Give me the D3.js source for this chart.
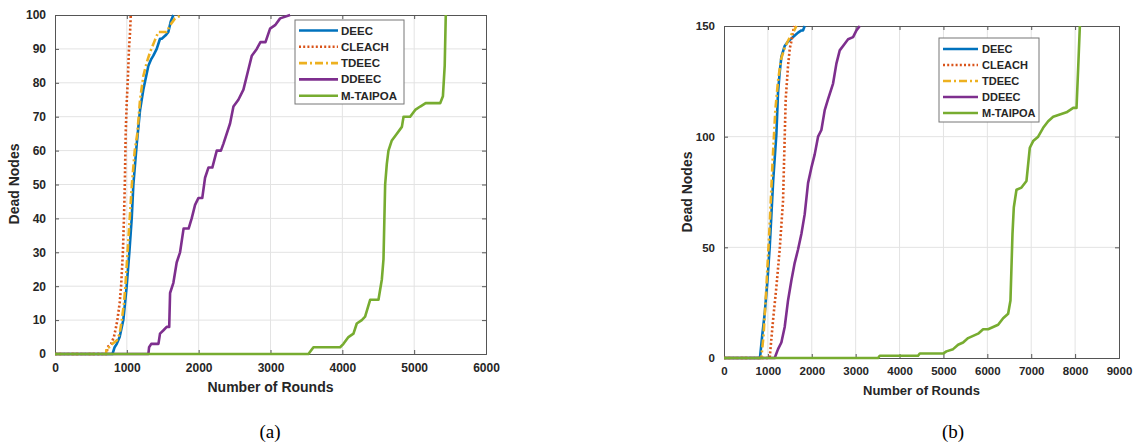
<!DOCTYPE html>
<html>
<head>
<meta charset="utf-8">
<script src="https://cdn.jsdelivr.net/npm/d3@7"></script>
<style>
  body { margin: 0; background: #fff; }
  svg text { font-family: "Liberation Sans", Arial, sans-serif; font-weight: bold; fill: #262626; }
  svg text.cap { font-family: "Liberation Serif", "Times New Roman", serif; font-weight: normal; fill: #000; }
</style>
</head>
<body>
<svg id="fig" width="1133" height="445"></svg>
<script>
// series names, same order in both panels
const seriesNames = ['DEEC', 'CLEACH', 'TDEEC', 'DDEEC', 'M-TAIPOA'];

// (a) 100 nodes: [round, dead nodes]
const deecA = [[0,0],[800,0],[830,2],[860,3],[900,5],[951,10],[975,15],[998,20],[1035,30],[1068,40],[1091,50],[1138,62],[1184,72],[1230,78],[1300,85],[1340,87],[1369,88],[1416,90],[1462,93],[1486,93],[1540,94],[1578,95],[1610,98],[1648,100]];
const cleachA = [[0,0],[720,0],[730,2],[780,3],[820,5],[850,8],[868,10],[900,15],[920,20],[945,30],[960,40],[972,50],[984,65],[1000,75],[1012,80],[1030,90],[1045,95],[1055,100]];
const tdeecA = [[0,0],[710,0],[720,2],[760,2],[800,3],[860,4],[900,6],[930,10],[960,15],[980,20],[1010,30],[1040,40],[1070,50],[1110,60],[1146,65],[1184,75],[1230,82],[1277,86],[1323,89],[1380,92],[1439,95],[1555,95],[1602,97],[1671,99],[1764,100]];
const ddeecA = [[0,0],[1300,0],[1310,2],[1340,3],[1440,3],[1462,6],[1510,7],[1555,8],[1590,8],[1602,18],[1648,21],[1694,27],[1741,30],[1790,37],[1860,37],[1903,40],[1950,44],[1996,46],[2050,46],[2089,52],[2136,55],[2190,55],[2252,60],[2310,60],[2344,62],[2437,68],[2484,73],[2553,75],[2623,78],[2693,84],[2740,88],[2809,90],[2860,92],[2930,92],[2994,96],[3064,97],[3134,99],[3273,100]];
const mtaipoaA = [[0,0],[3528,0],[3598,2],[3969,2],[4016,3],[4085,5],[4155,6],[4201,9],[4271,10],[4317,11],[4387,16],[4503,16],[4550,22],[4573,28],[4596,50],[4619,56],[4642,60],[4689,63],[4759,65],[4829,67],[4852,70],[4944,70],[5014,72],[5084,73],[5160,74],[5362,74],[5400,76],[5425,85],[5440,100]];

// (b) 150 nodes: [round, dead nodes]
const deecB = [[0,0],[820,0],[870,10],[927,20],[990,35],[1041,50],[1120,80],[1193,101],[1231,120],[1269,129],[1307,136],[1383,141],[1459,143],[1573,145],[1687,147],[1763,148],[1800,148],[1839,150]];
const cleachB = [[0,0],[1041,0],[1117,17],[1193,32],[1269,49],[1345,71],[1406,117],[1459,132],[1500,140],[1535,143],[1570,147],[1600,150]];
const tdeecB = [[0,0],[850,0],[900,10],[960,30],[1040,60],[1110,90],[1170,112],[1230,125],[1300,135],[1380,140],[1450,143],[1530,146],[1600,148],[1650,150]];
const ddeecB = [[0,0],[1155,0],[1231,4],[1307,7],[1383,14],[1459,26],[1535,35],[1611,43],[1687,49],[1763,56],[1839,65],[1915,79],[1991,86],[2067,92],[2143,100],[2219,103],[2295,112],[2371,117],[2485,124],[2561,133],[2637,139],[2751,142],[2827,144],[2941,145],[3017,148],[3093,150]];
const mtaipoaB = [[0,0],[3511,0],[3549,1],[4422,1],[4460,2],[4992,2],[5068,3],[5220,4],[5334,6],[5448,7],[5562,9],[5676,10],[5790,11],[5904,13],[6018,13],[6132,14],[6246,15],[6360,18],[6474,20],[6527,26],[6550,41],[6573,56],[6603,68],[6664,76],[6778,77],[6892,80],[6968,95],[7044,98],[7158,100],[7272,104],[7386,107],[7500,109],[7652,110],[7804,111],[7956,113],[8032,113],[8070,131],[8108,150]];

const xTicksA = [0, 1000, 2000, 3000, 4000, 5000, 6000];
const yTicksA = [0, 10, 20, 30, 40, 50, 60, 70, 80, 90, 100];
const xTicksB = [0, 1000, 2000, 3000, 4000, 5000, 6000, 7000, 8000, 9000];
const yTicksB = [0, 50, 100, 150];

const colors = ['#0072BD', '#D95319', '#EDB120', '#7E2F8E', '#77AC30'];
const dashes = [null, '2,2.2', '8,3,2,3', null, null];

const svg = d3.select('#fig');

function drawPanel(o) {
  const x = d3.scaleLinear().domain([0, o.xMax]).range([o.left, o.right]);
  const y = d3.scaleLinear().domain([0, o.yMax]).range([o.bottom, o.top]);
  const g = svg.append('g');

  // grid
  g.append('g').selectAll('line').data(o.xTicks.slice(1, -1)).join('line')
    .attr('x1', d => x(d)).attr('x2', d => x(d))
    .attr('y1', o.top).attr('y2', o.bottom)
    .attr('stroke', '#e3e3e3').attr('stroke-width', 1);
  g.append('g').selectAll('line').data(o.yTicks.slice(1, -1)).join('line')
    .attr('y1', d => y(d)).attr('y2', d => y(d))
    .attr('x1', o.left).attr('x2', o.right)
    .attr('stroke', '#e3e3e3').attr('stroke-width', 1);

  // axes, matlab style ticks pointing in
  const xAx = g.append('g').attr('transform', 'translate(0,' + o.bottom + ')')
    .call(d3.axisBottom(x).tickValues(o.xTicks).tickSize(-4).tickPadding(9).tickFormat(d3.format('d')));
  const xAxTop = g.append('g').attr('transform', 'translate(0,' + o.top + ')')
    .call(d3.axisTop(x).tickValues(o.xTicks).tickSize(-4).tickFormat(''));
  const yAx = g.append('g').attr('transform', 'translate(' + o.left + ',0)')
    .call(d3.axisLeft(y).tickValues(o.yTicks).tickSize(-4).tickPadding(9));
  const yAxR = g.append('g').attr('transform', 'translate(' + o.right + ',0)')
    .call(d3.axisRight(y).tickValues(o.yTicks).tickSize(-4).tickFormat(''));
  [xAx, xAxTop, yAx, yAxR].forEach(a => {
    a.select('.domain').attr('stroke', '#555');
    a.selectAll('.tick line').attr('stroke', '#555');
    a.selectAll('text').style('font-size', o.tickFont + 'px')
      .style('font-family', '"Liberation Sans", Arial, sans-serif').attr('fill', '#262626');
  });

  // axis titles
  g.append('text').attr('x', (o.left + o.right) / 2).attr('y', o.xLabelY)
    .attr('text-anchor', 'middle').style('font-size', o.xLabelFont + 'px').text('Number of Rounds');
  g.append('text').attr('transform', 'translate(' + o.yLabelX + ',' + o.yLabelY + ') rotate(-90)')
    .attr('text-anchor', 'middle').style('font-size', '14px').text('Dead Nodes');

  // lines
  const line = d3.line().x(d => x(d[0])).y(d => y(d[1]));
  o.series.forEach((s, i) => {
    g.append('path').datum(s).attr('d', line)
      .attr('fill', 'none').attr('stroke', colors[i]).attr('stroke-width', 2.6)
      .attr('stroke-dasharray', dashes[i]).attr('stroke-linejoin', 'round');
  });

  // legend
  const L = o.legend;
  g.append('rect').attr('x', L.x).attr('y', L.y).attr('width', L.w).attr('height', L.h)
    .attr('fill', '#fff').attr('stroke', '#777').attr('stroke-width', 1);
  seriesNames.forEach((name, i) => {
    const yy = L.y + L.first + i * L.step;
    g.append('line').attr('x1', L.x + 4).attr('x2', L.x + 4 + L.lineLen)
      .attr('y1', yy).attr('y2', yy)
      .attr('stroke', colors[i]).attr('stroke-width', 2.6).attr('stroke-dasharray', dashes[i]);
    g.append('text').attr('x', L.x + L.textX).attr('y', yy + 4)
      .style('font-size', L.font + 'px').text(name);
  });

  svg.append('text').attr('class', 'cap').attr('x', o.capX).attr('y', 438)
    .attr('text-anchor', 'middle').style('font-size', '19px').text(o.cap);
}

drawPanel({
  left: 55, right: 486, top: 15, bottom: 354,
  xMax: 6000, yMax: 100, xTicks: xTicksA, yTicks: yTicksA,
  tickFont: 12, xLabelFont: 14, xLabelY: 392, yLabelX: 19, yLabelY: 184,
  series: [deecA, cleachA, tdeecA, ddeecA, mtaipoaA],
  legend: { x: 295, y: 20, w: 109, h: 84, first: 10.5, step: 16.3, lineLen: 39, textX: 46, font: 11.5 },
  cap: '(a)', capX: 270
});

drawPanel({
  left: 724, right: 1119, top: 26, bottom: 358,
  xMax: 9000, yMax: 150, xTicks: xTicksB, yTicks: yTicksB,
  tickFont: 11.5, xLabelFont: 13, xLabelY: 395, yLabelX: 692, yLabelY: 192,
  series: [deecB, cleachB, tdeecB, ddeecB, mtaipoaB],
  legend: { x: 939, y: 38, w: 100, h: 84, first: 11, step: 16, lineLen: 35, textX: 43, font: 11 },
  cap: '(b)', capX: 953
});
</script>
</body>
</html>
